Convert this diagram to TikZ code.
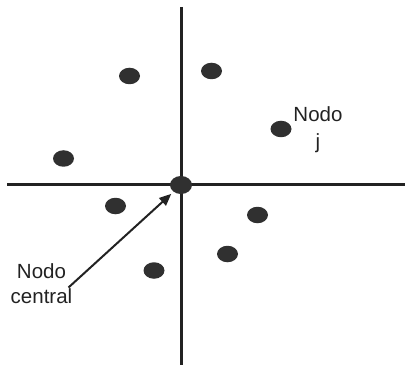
\documentclass[tikz,border=0pt]{standalone}
\usepackage{fontspec}
\setmainfont{Liberation Sans}
\usetikzlibrary{arrows.meta,shapes.geometric}
\definecolor{ink}{HTML}{222222}
\definecolor{dotc}{HTML}{303030}
\begin{document}
\begin{tikzpicture}[x=1pt,y=-1pt,
  dotnode/.style={ellipse,fill=dotc,minimum width=21pt,minimum height=16.5pt,inner sep=0pt},
  axis/.style={draw=ink,line width=3pt},
  lbl/.style={font=\fontsize{20.5}{25}\selectfont,text=ink,align=center,inner sep=0pt},
  pointer/.style={draw=ink,line width=2pt,-{Triangle[length=12pt,width=10pt]}}]
\useasboundingbox (0,0) rectangle (405,369);
\coordinate (vt) at (181,7);
\coordinate (vb) at (181,365);
\coordinate (hl) at (7,185);
\coordinate (hr) at (405,185);
\draw[axis] (vt) -- (vb);
\draw[axis] (hl) -- (hr);
\node[dotnode,minimum width=22pt,minimum height=18pt] (c) at (181,185) {};
\node[dotnode] (d1) at (129.5,76) {};
\node[dotnode] (d2) at (211.5,71) {};
\node[dotnode] (d3) at (281,129) {};
\node[dotnode] (d4) at (63.5,158.5) {};
\node[dotnode] (d5) at (115.5,206) {};
\node[dotnode] (d6) at (257.5,215) {};
\node[dotnode] (d7) at (227.5,254) {};
\node[dotnode] (d8) at (154,270.5) {};
\node[lbl] (nj) at (318,130) {Nodo\\[2pt]j};
\node[lbl] (nc) at (41.5,284) {Nodo\\central};
\coordinate (as) at (68.5,287.5);
\draw[pointer,shorten >=3pt] (as) -- (c);
\end{tikzpicture}
\end{document}
